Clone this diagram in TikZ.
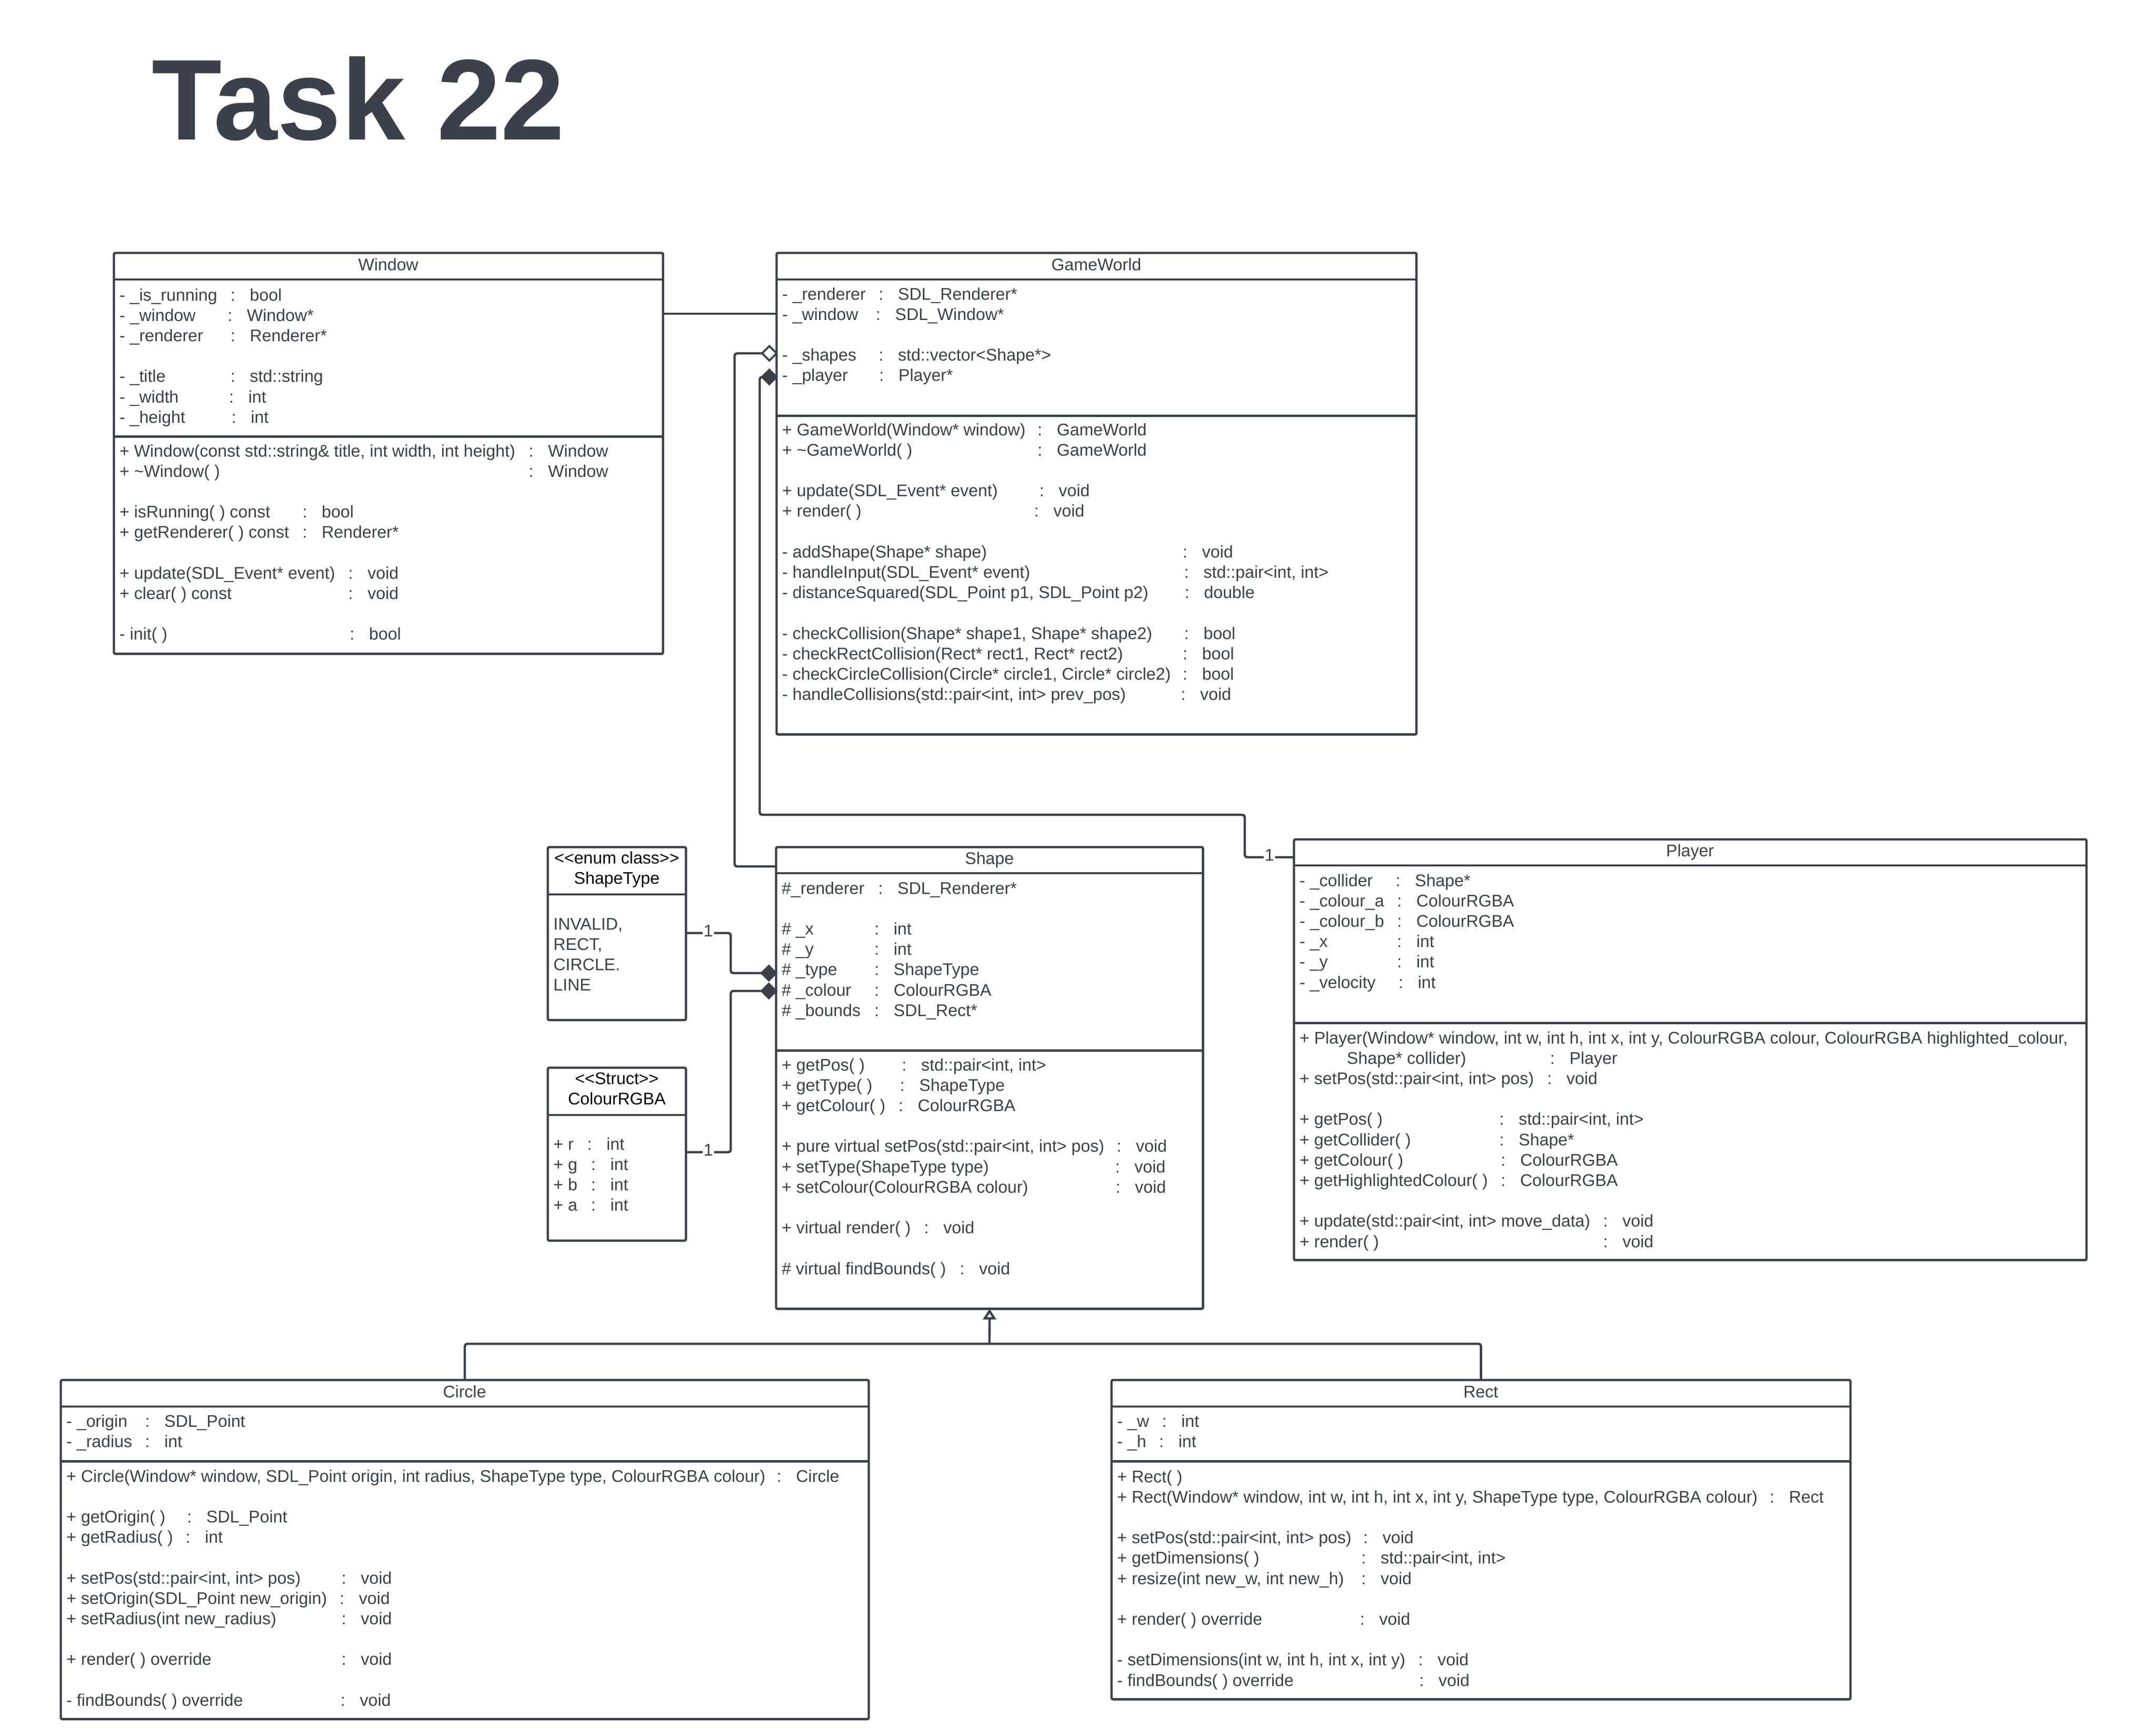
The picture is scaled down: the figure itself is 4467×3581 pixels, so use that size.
\documentclass[tikz,border=0pt]{standalone}
\usepackage{fontspec}
\setmainfont{Liberation Sans}
\usetikzlibrary{shapes.geometric,arrows.meta}
\newlength\px \setlength\px{0.01cm}
\definecolor{ink}{RGB}{58,65,74}
\newcommand\ur[3]{\makebox[#1\px][l]{#2}\makebox[40\px][l]{:}#3}
\newcommand\umlrows[1]{\begin{tabular}[t]{@{}l@{}}#1\end{tabular}}
\newcommand\umlcrows[1]{\begin{tabular}[t]{@{}c@{}}#1\end{tabular}}
\begin{document}
\begin{tikzpicture}[x=0.01cm,y=-0.01cm,
  umlbox/.style={draw=ink,line width=0.048cm,rounded corners=0.03cm,inner sep=0,outer sep=0,anchor=north west,fill=white},
  sepline/.style={draw=ink,line width=0.048cm},
  body/.style={anchor=base west,inner sep=0,text=ink,font=\fontsize{35\px}{42.2\px}\selectfont},
  ttl/.style={anchor=base,inner sep=0,text=ink,font=\fontsize{35\px}{42.2\px}\selectfont},
  stereo/.style={anchor=base,inner sep=0,text=black,font=\fontsize{35\px}{42.2\px}\selectfont},
  conn/.style={draw=ink,line width=0.048cm,rounded corners=0.05cm},
  dia/.style={diamond,draw=ink,line width=0.04cm,minimum width=0.30cm,minimum height=0.30cm,inner sep=0,outer sep=0,anchor=east},
  mult/.style={fill=white,inner sep=0.02cm,yshift=0.05cm,text=ink,font=\fontsize{35\px}{42.2\px}\selectfont}]
\useasboundingbox (0,0) rectangle (4467,3581);
\fill[white] (0,0) rectangle (4467,3581);

% title
\node[anchor=base west,inner sep=0,text=ink,font=\fontsize{238\px}{285\px}\selectfont\bfseries] (title) at (314,289) {Task 22};

% class boxes
\node[umlbox,minimum width=11.37cm,minimum height=8.30cm] (window) at (236,524) {};
\node[umlbox,minimum width=13.25cm,minimum height=9.97cm] (gameworld) at (1609,524) {};
\node[umlbox,minimum width=2.86cm,minimum height=3.58cm] (shapetype) at (1135,1755) {};
\node[umlbox,minimum width=2.86cm,minimum height=3.58cm] (colourrgba) at (1135,2212) {};
\node[umlbox,minimum width=8.84cm,minimum height=9.56cm] (shape) at (1608,1755) {};
\node[umlbox,minimum width=16.41cm,minimum height=8.71cm] (player) at (2681,1739) {};
\node[umlbox,minimum width=16.73cm,minimum height=7.02cm] (circle) at (126,2859) {};
\node[umlbox,minimum width=15.30cm,minimum height=6.61cm] (rect) at (2303,2859) {};

% compartment separators
\foreach \b/\h in {window/0.55,window/3.80,gameworld/0.55,gameworld/3.37,shapetype/0.98,colourrgba/0.98,shape/0.54,shape/4.21,player/0.54,player/3.80,circle/0.55,circle/1.68,rect/0.55,rect/1.68}
  \draw[sepline] ([yshift=-\h cm]\b.north west) -- ([yshift=-\h cm]\b.north east);

% Window
\node[ttl] (wtitle) at (804.5,560) {Window};
\node[body] (wattr) at (247,623) {\umlrows{%
\ur{230}{- \_is\_running}{bool}\\
\ur{224}{- \_window}{Window*}\\
\ur{230}{- \_renderer}{Renderer*}\\
\\
\ur{230}{- \_title}{std::string}\\
\ur{227}{- \_width}{int}\\
\ur{232}{- \_height}{int}}};
\node[body] (wmeth) at (247,946) {\umlrows{%
\ur{848}{+ Window(const std::string\& title, int width, int height)}{Window}\\
\ur{848}{+ \textasciitilde Window( )}{Window}\\
\\
\ur{379}{+ isRunning( ) const}{bool}\\
\ur{379}{+ getRenderer( ) const}{Renderer*}\\
\\
\ur{474}{+ update(SDL\_Event* event)}{void}\\
\ur{474}{+ clear( ) const}{void}\\
\\
\ur{477}{- init( )}{bool}}};

% GameWorld
\node[ttl] (gwtitle) at (2271.5,560) {GameWorld};
\node[body] (gwattr) at (1620,621) {\umlrows{%
\ur{200}{- \_renderer}{SDL\_Renderer*}\\
\ur{194}{- \_window}{SDL\_Window*}\\
\\
\ur{200}{- \_shapes}{std::vector<Shape*>}\\
\ur{201}{- \_player}{Player*}}};
\node[body] (gwmeth) at (1620,902) {\umlrows{%
\ur{529}{+ GameWorld(Window* window)}{GameWorld}\\
\ur{529}{+ \textasciitilde GameWorld( )}{GameWorld}\\
\\
\ur{533}{+ update(SDL\_Event* event)}{void}\\
\ur{522}{+ render( )}{void}\\
\\
\ur{830}{- addShape(Shape* shape)}{void}\\
\ur{833}{- handleInput(SDL\_Event* event)}{std::pair<int, int>}\\
\ur{834}{- distanceSquared(SDL\_Point p1, SDL\_Point p2)}{double}\\
\\
\ur{833}{- checkCollision(Shape* shape1, Shape* shape2)}{bool}\\
\ur{830}{- checkRectCollision(Rect* rect1, Rect* rect2)}{bool}\\
\ur{830}{- checkCircleCollision(Circle* circle1, Circle* circle2)}{bool}\\
\ur{826}{- handleCollisions(std::pair<int, int> prev\_pos)}{void}}};

% ShapeType
\node[stereo] (sttitle) at (1278,1789) {\umlcrows{<\kern0pt<enum class>\kern0pt>\\ShapeType}};
\node[body] (stvals) at (1146,1926) {\umlrows{INVALID,\\RECT,\\CIRCLE.\\LINE}};

% ColourRGBA
\node[stereo] (crtitle) at (1278,2246) {\umlcrows{<\kern0pt<Struct>\kern0pt>\\ColourRGBA}};
\node[body] (crvals) at (1146,2382) {\umlrows{%
\ur{70}{+ r}{int}\\
\ur{78}{+ g}{int}\\
\ur{78}{+ b}{int}\\
\ur{78}{+ a}{int}}};

% Shape
\node[ttl] (shtitle) at (2050,1790) {Shape};
\node[body] (shattr) at (1619,1852) {\umlrows{%
\ur{200}{\#\_renderer}{SDL\_Renderer*}\\
\\
\ur{192}{\# \_x}{int}\\
\ur{192}{\# \_y}{int}\\
\ur{192}{\# \_type}{ShapeType}\\
\ur{192}{\# \_colour}{ColourRGBA}\\
\ur{192}{\# \_bounds}{SDL\_Rect*}}};
\node[body] (shmeth) at (1619,2218) {\umlrows{%
\ur{249}{+ getPos( )}{std::pair<int, int>}\\
\ur{245}{+ getType( )}{ShapeType}\\
\ur{242}{+ getColour( )}{ColourRGBA}\\
\\
\ur{694}{+ pure virtual setPos(std::pair<int, int> pos)}{void}\\
\ur{691}{+ setType(ShapeType type)}{void}\\
\ur{692}{+ setColour(ColourRGBA colour)}{void}\\
\\
\ur{295}{+ virtual render( )}{void}\\
\\
\ur{369}{\# virtual findBounds( )}{void}}};

% Player
\node[ttl] (pltitle) at (3501.5,1774) {Player};
\node[body] (plattr) at (2692,1836) {\umlrows{%
\ur{199}{- \_collider}{Shape*}\\
\ur{202}{- \_colour\_a}{ColourRGBA}\\
\ur{202}{- \_colour\_b}{ColourRGBA}\\
\ur{202}{- \_x}{int}\\
\ur{202}{- \_y}{int}\\
\ur{205}{- \_velocity}{int}}};
\node[body] (plmeth) at (2692,2162) {\umlrows{%
+ Player(Window* window, int w, int h, int x, int y, ColourRGBA colour, ColourRGBA highlighted\_colour,\\
\hspace*{98\px}\ur{421}{Shape* collider)}{Player}\\
\ur{513}{+ setPos(std::pair<int, int> pos)}{void}\\
\\
\ur{414}{+ getPos( )}{std::pair<int, int>}\\
\ur{414}{+ getCollider( )}{Shape*}\\
\ur{417}{+ getColour( )}{ColourRGBA}\\
\ur{417}{+ getHighlightedColour( )}{ColourRGBA}\\
\\
\ur{629}{+ update(std::pair<int, int> move\_data)}{void}\\
\ur{629}{+ render( )}{void}}};

% Circle
\node[ttl] (cititle) at (962.5,2895) {Circle};
\node[body] (ciattr) at (137,2956) {\umlrows{%
\ur{163}{- \_origin}{SDL\_Point}\\
\ur{163}{- \_radius}{int}}};
\node[body] (cimeth) at (137,3070) {\umlrows{%
\ur{1472}{+ Circle(Window* window, SDL\_Point origin, int radius, ShapeType type, ColourRGBA colour)}{Circle}\\
\\
\ur{250}{+ getOrigin( )}{SDL\_Point}\\
\ur{247}{+ getRadius( )}{int}\\
\\
\ur{570}{+ setPos(std::pair<int, int> pos)}{void}\\
\ur{566}{+ setOrigin(SDL\_Point new\_origin)}{void}\\
\ur{570}{+ setRadius(int new\_radius)}{void}\\
\\
\ur{570}{+ render( ) override}{void}\\
\\
\ur{568}{- findBounds( ) override}{void}}};

% Rect
\node[ttl] (rctitle) at (3068,2895) {Rect};
\node[body] (rcattr) at (2314,2956) {\umlrows{%
\ur{93}{- \_w}{int}\\
\ur{87}{- \_h}{int}}};
\node[body] (rcmeth) at (2314,3071) {\umlrows{%
+ Rect( )\\
\ur{1352}{+ Rect(Window* window, int w, int h, int x, int y, ShapeType type, ColourRGBA colour)}{Rect}\\
\\
\ur{510}{+ setPos(std::pair<int, int> pos)}{void}\\
\ur{506}{+ getDimensions( )}{std::pair<int, int>}\\
\ur{506}{+ resize(int new\_w, int new\_h)}{void}\\
\\
\ur{503}{+ render( ) override}{void}\\
\\
\ur{624}{- setDimensions(int w, int h, int x, int y)}{void}\\
\ur{626}{- findBounds( ) override}{void}}};

% connector bend points
\coordinate (wl) at (1400,650);
\coordinate (aggTop) at (1522,732);
\coordinate (aggBot) at (1522,1795);
\coordinate (c1) at (1574,781);
\coordinate (c2) at (1574,1688);
\coordinate (c3) at (2579,1688);
\coordinate (c4) at (2579,1776);
\coordinate (s1) at (1514,1933);
\coordinate (s2) at (1514,2016);
\coordinate (r1) at (1514,2387);
\coordinate (r2) at (1514,2053);
\coordinate (ih) at (2050,2784);

% Window -- GameWorld
\draw[conn] (window.east |- wl) -- (gameworld.west |- wl);
% GameWorld _shapes -- Shape (aggregation)
\draw[conn] (gameworld.west |- aggTop) -- (aggTop) -- (aggBot) -- (shape.west |- aggBot);
% GameWorld _player -- Player (composition)
\draw[conn] (gameworld.west |- c1) -- (c1) -- (c2) -- (c3) -- (c4) -- node[mult] (m1) {1} (player.west |- c4);
% ShapeType -- Shape
\draw[conn] (shapetype.east |- s1) -- node[mult] (m2) {1} (s1) -- (s2) -- (shape.west |- s2);
% ColourRGBA -- Shape
\draw[conn] (colourrgba.east |- r1) -- node[mult] (m3) {1} (r1) -- (r2) -- (shape.west |- r2);
% inheritance
\draw[conn] (circle.north) |- (ih) -| (rect.north);
\draw[draw=ink,line width=0.048cm,-{Triangle[open,length=0.22cm,width=0.27cm]}] (ih) -- (shape.south);

% diamonds
\node[dia,fill=white] (dShapes) at (gameworld.west |- aggTop) {};
\node[dia,fill=ink] (dPlayer) at (gameworld.west |- c1) {};
\node[dia,fill=ink] (dType) at (shape.west |- s2) {};
\node[dia,fill=ink] (dColour) at (shape.west |- r2) {};
\end{tikzpicture}
\end{document}
